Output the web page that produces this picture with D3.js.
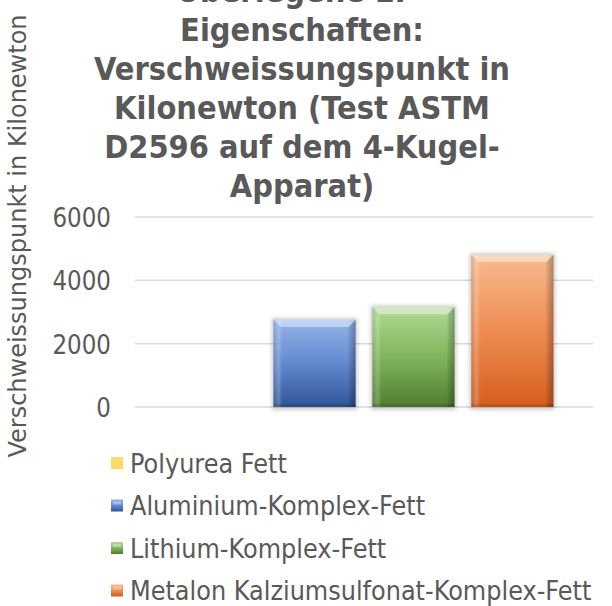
<!DOCTYPE html>
<html><head><meta charset="utf-8">
<script src="https://cdn.jsdelivr.net/npm/d3@7"></script>
<style>html,body{margin:0;padding:0;background:#fff;}svg{display:block;font-family:"DejaVu Sans",Verdana,sans-serif;}</style>
</head><body>
<svg id="chart" width="612" height="606"></svg>
<script>
// ---- data ----
const titleLines = ["Überlegene EP-", "Eigenschaften:", "Verschweissungspunkt in", "Kilonewton (Test ASTM", "D2596 auf dem 4-Kugel-", "Apparat)"];
const yAxisTitle = "Verschweissungspunkt in Kilonewton";
const seriesNames = ["Polyurea Fett", "Aluminium-Komplex-Fett", "Lithium-Komplex-Fett", "Metalon Kalziumsulfonat-Komplex-Fett"];
const seriesValues = [0, 2750, 3150, 4800];
const yTicks = [0, 2000, 4000, 6000];
const seriesColors = [
  {top:"#FFE699", mid:"#FFD966", bot:"#F2C23C", flat:"#FFD966"},
  {top:"#93B4EA", mid:"#6189D0", bot:"#2F5597", flat:"#4472C4"},
  {top:"#B0DA94", mid:"#80B55C", bot:"#4E7E2F", flat:"#70AD47"},
  {top:"#F9B98F", mid:"#EE8C52", bot:"#D55E1C", flat:"#ED7D31"}
];

const svg = d3.select("#chart");
const textColor = "#595959";
const sy = 1.13; // vertical stretch of the text glyphs
const plot = {left:135, right:593, top:217, bottom:407};

const defs = svg.append("defs");
const blur = defs.append("filter").attr("id","shadow").attr("x","-30%").attr("y","-30%").attr("width","160%").attr("height","160%");
blur.append("feGaussianBlur").attr("stdDeviation",2.2);
seriesColors.forEach((c,i)=>{
  const g = defs.append("linearGradient").attr("id","grad"+i).attr("x1",0).attr("y1",0).attr("x2",0).attr("y2",1);
  g.append("stop").attr("offset","0%").attr("stop-color",c.top);
  g.append("stop").attr("offset","50%").attr("stop-color",c.mid);
  g.append("stop").attr("offset","100%").attr("stop-color",c.bot);
  const h = defs.append("linearGradient").attr("id","side"+i).attr("x1",0).attr("y1",0).attr("x2",1).attr("y2",0);
  h.append("stop").attr("offset","0%").attr("stop-color","#000").attr("stop-opacity",0.12);
  h.append("stop").attr("offset","6%").attr("stop-color","#fff").attr("stop-opacity",0.12);
  h.append("stop").attr("offset","12%").attr("stop-color","#fff").attr("stop-opacity",0);
  h.append("stop").attr("offset","88%").attr("stop-color","#fff").attr("stop-opacity",0);
  h.append("stop").attr("offset","94%").attr("stop-color","#000").attr("stop-opacity",0.05);
  h.append("stop").attr("offset","100%").attr("stop-color","#000").attr("stop-opacity",0.22);
});

// ---- scales ----
const y = d3.scaleLinear().domain([0, 6000]).range([plot.bottom, plot.top]);
const x = d3.scaleBand().domain(seriesNames).range([plot.left, plot.right]).paddingInner(0.17).paddingOuter(0.4);

// gridlines
svg.append("g").selectAll("line").data(yTicks).join("line")
  .attr("x1", plot.left).attr("x2", plot.right)
  .attr("y1", d=>y(d)).attr("y2", d=>y(d))
  .attr("stroke","#D9D9D9").attr("stroke-width",1.5);

// y axis labels
const yAxis = d3.axisLeft(y).tickValues(yTicks).tickSize(0).tickPadding(0).tickFormat(d3.format("d"));
const yg = svg.append("g").attr("transform",`translate(111,0)`).call(yAxis);
yg.select(".domain").remove();
yg.selectAll("text").attr("fill",textColor).style("font-size","23px")
  .style("font-family","'DejaVu Sans',Verdana,sans-serif").attr("dy","0.36em")
  .attr("transform",`scale(1,${sy})`);

// bars
const bars = svg.append("g").selectAll("g").data(seriesNames.map((n,i)=>({n,v:seriesValues[i],i}))).join("g");
bars.filter(d=>d.v>0).each(function(d){
  const g = d3.select(this);
  const bx = x(d.n), bw = x.bandwidth(), by = y(d.v), bh = y(0)-y(d.v);
  g.append("rect").attr("x",bx-1.5).attr("y",by-1.5).attr("width",bw+3).attr("height",bh+4)
    .attr("fill","#000").attr("opacity",0.22).attr("filter","url(#shadow)");
  g.append("rect").attr("x",bx).attr("y",by).attr("width",bw).attr("height",bh).attr("fill",`url(#grad${d.i})`);
  g.append("rect").attr("x",bx).attr("y",by).attr("width",bw).attr("height",bh).attr("fill",`url(#side${d.i})`);
  const bev = 7;
  g.append("path").attr("d",`M${bx},${by}H${bx+bw}L${bx+bw-bev},${by+bev}H${bx+bev}Z`).attr("fill","#fff").attr("opacity",0.45);
  g.append("path").attr("d",`M${bx},${by}L${bx+bev},${by+bev}V${by+bh}H${bx}Z`).attr("fill","#fff").attr("opacity",0.1);
  g.append("path").attr("d",`M${bx+bw},${by}L${bx+bw-bev},${by+bev}V${by+bh}H${bx+bw}Z`).attr("fill","#000").attr("opacity",0.08);
  g.append("rect").attr("x",bx).attr("y",y(0)-3).attr("width",bw).attr("height",3).attr("fill","#000").attr("opacity",0.12);
});

// title
svg.append("g").selectAll("text").data(titleLines).join("text")
  .attr("transform",(d,i)=>`translate(302,${2 + i*39}) scale(1,${sy})`)
  .attr("text-anchor","middle").attr("fill",textColor)
  .style("font-size","29px").style("font-weight","bold")
  .text(d=>d);

// y axis title
svg.append("text").attr("transform","translate(26,236) rotate(-90)")
  .attr("text-anchor","middle").attr("fill",textColor).style("font-size","24px")
  .text(yAxisTitle);

// legend
const leg = svg.append("g").selectAll("g").data(seriesNames).join("g")
  .attr("transform",(d,i)=>`translate(111,${463 + i*42.5})`);
leg.append("rect").attr("x",0).attr("y",-6).attr("width",12).attr("height",12)
  .attr("fill",(d,i)=> i===0 ? seriesColors[0].flat : `url(#grad${i})`);
leg.filter((d,i)=>i>0).append("rect").attr("x",2).attr("y",-4).attr("width",8).attr("height",3).attr("fill","#fff").attr("opacity",0.35);
leg.append("text").attr("x",19).attr("y",0).attr("dy","0.36em").attr("fill",textColor)
  .attr("transform",`scale(1,${sy})`).style("font-size","24px").text(d=>d);
</script>
</body></html>
